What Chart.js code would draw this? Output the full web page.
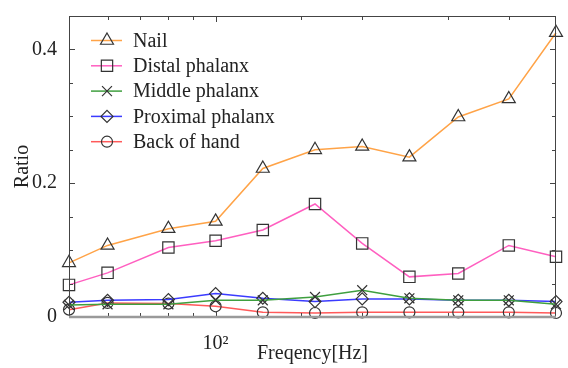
<!DOCTYPE html>
<html><head><meta charset="utf-8">
<script src="https://cdn.jsdelivr.net/npm/chart.js@4/dist/chart.umd.min.js"></script>
<style>html,body{margin:0;padding:0;background:#fff}#wrap{width:568px;height:368px;position:relative}</style>
</head><body><div id="wrap"><canvas id="c" width="568" height="368"></canvas></div>
<script>
const frequencies = [50, 60, 80, 100, 125, 160, 200, 250, 315, 400, 500];
const nail        = [0.081, 0.107, 0.132, 0.143, 0.222, 0.250, 0.255, 0.239, 0.299, 0.326, 0.425];
const distal      = [0.048, 0.066, 0.104, 0.114, 0.130, 0.169, 0.110, 0.060, 0.065, 0.107, 0.090];
const middle      = [0.018, 0.019, 0.019, 0.025, 0.025, 0.030, 0.040, 0.028, 0.025, 0.025, 0.019];
const proximal    = [0.022, 0.025, 0.026, 0.035, 0.028, 0.023, 0.027, 0.027, 0.025, 0.025, 0.023];
const backOfHand  = [0.011, 0.021, 0.020, 0.016, 0.007, 0.006, 0.007, 0.007, 0.007, 0.007, 0.006];
const seriesNames = ['Nail', 'Distal phalanx', 'Middle phalanx', 'Proximal phalanx', 'Back of hand'];
const yTickLabels = [0, 0.2, 0.4];
const xTickLabels = {100: '10\u00B2'};
const xTitle = 'Freqency[Hz]';
const yTitle = 'Ratio';

const FONT = "'Liberation Serif', 'DejaVu Serif', serif";
const styles = [
  {color: '#ffa347', point: 'triangle', r: 7.5},
  {color: '#ff5fc0', point: 'rect', r: 8},
  {color: '#3f9f3f', point: 'crossRot', r: 7},
  {color: '#3b3bff', point: 'rectRot', r: 6},
  {color: '#ff5a5a', point: 'circle', r: 5.5}
];
const seriesValues = [nail, distal, middle, proximal, backOfHand];

const datasets = seriesValues.map((vals, i) => ({
  label: seriesNames[i],
  data: frequencies.map((f, j) => ({x: f, y: vals[j]})),
  borderColor: styles[i].color,
  borderWidth: 1.5,
  backgroundColor: 'rgba(0,0,0,0)',
  pointStyle: styles[i].point,
  pointRadius: styles[i].r,
  pointBorderColor: '#333',
  pointBackgroundColor: 'rgba(0,0,0,0)',
  pointBorderWidth: 1.2,
  tension: 0,
  clip: false
}));

function seg(ctx, x1, y1, x2, y2) { ctx.beginPath(); ctx.moveTo(x1, y1); ctx.lineTo(x2, y2); ctx.stroke(); }

const framePlugin = {
  id: 'frame',
  afterDraw(chart) {
    const {ctx, chartArea: a, scales: {x, y}} = chart;
    ctx.save();
    ctx.strokeStyle = '#444';
    ctx.lineWidth = 1;
    seg(ctx, a.left + 0.5, a.bottom, a.left + 0.5, a.top + 0.5);
    seg(ctx, a.left, a.top + 0.5, a.right - 0.5, a.top + 0.5);
    seg(ctx, a.right - 0.5, a.top, a.right - 0.5, a.bottom);
    for (let k = 0; k <= 9; k++) {
      const v = k * 0.05;
      const py = Math.round(y.getPixelForValue(v)) + 0.5;
      const major = yTickLabels.some(t => Math.abs(t - v) < 1e-6);
      const len = major ? 6 : 4;
      seg(ctx, a.left, py, a.left + len, py);
      seg(ctx, a.right, py, a.right - len, py);
    }
    x.ticks.forEach(t => {
      const px = Math.round(x.getPixelForValue(t.value)) + 0.5;
      if (px <= a.left + 1 || px >= a.right - 1) return;
      const len = t.value === 100 ? 6 : 4;
      seg(ctx, px, a.top, px, a.top + len);
      seg(ctx, px, a.bottom, px, a.bottom - len);
    });
    ctx.strokeStyle = '#9a9a9a';
    ctx.lineWidth = 2.5;
    seg(ctx, a.left, a.bottom, a.right, a.bottom);
    ctx.restore();
  }
};

const legendPlugin = {
  id: 'boxLegend',
  afterDraw(chart) {
    const ctx = chart.ctx;
    ctx.save();
    const x0 = 91, x1 = 122, xm = 107, xt = 133, y0 = 40.5, dy = 25.3;
    chart.data.datasets.forEach((ds, i) => {
      const yy = y0 + i * dy;
      ctx.strokeStyle = ds.borderColor;
      ctx.lineWidth = 1.5;
      seg(ctx, x0, yy, x1, yy);
      ctx.strokeStyle = '#333';
      ctx.fillStyle = 'rgba(0,0,0,0)';
      ctx.lineWidth = 1.2;
      Chart.helpers.drawPoint(ctx, {pointStyle: ds.pointStyle, radius: ds.pointRadius, borderWidth: 1.2, rotation: 0}, xm, yy);
      ctx.fillStyle = '#222';
      ctx.font = '20px ' + FONT;
      ctx.textBaseline = 'middle';
      ctx.textAlign = 'left';
      ctx.fillText(ds.label, xt, yy + 1);
    });
    ctx.restore();
  }
};

new Chart(document.getElementById('c'), {
  type: 'line',
  data: {datasets},
  options: {
    responsive: false,
    animation: false,
    devicePixelRatio: 1,
    layout: {padding: {left: 0, top: 14, right: 12, bottom: 0}},
    plugins: {legend: {display: false}, tooltip: {enabled: false}},
    scales: {
      x: {
        type: 'logarithmic',
        min: 50, max: 500,
        grid: {display: false},
        border: {display: false},
        ticks: {
          autoSkip: false, maxRotation: 0, padding: 7,
          color: '#222', font: {family: FONT, size: 20},
          callback: (v) => xTickLabels[v] || ''
        },
        title: {display: true, text: xTitle, color: '#222', font: {family: FONT, size: 20}, padding: {top: 0, bottom: 2}},
        afterFit: (s) => { s.height = 51; }
      },
      y: {
        type: 'linear',
        min: 0, max: 0.45,
        grid: {display: false},
        border: {display: false},
        ticks: {
          stepSize: 0.05, padding: 4, autoSkip: false,
          color: '#222', font: {family: FONT, size: 20},
          callback: (v) => { const m = yTickLabels.find(t => Math.abs(t - v) < 1e-6); return m === undefined ? '' : String(m); }
        },
        title: {display: true, text: yTitle, color: '#222', font: {family: FONT, size: 20}, padding: {top: 11, bottom: 0}},
        afterFit: (s) => { s.width = 69; }
      }
    }
  },
  plugins: [framePlugin, legendPlugin]
});
</script>
</body></html>
